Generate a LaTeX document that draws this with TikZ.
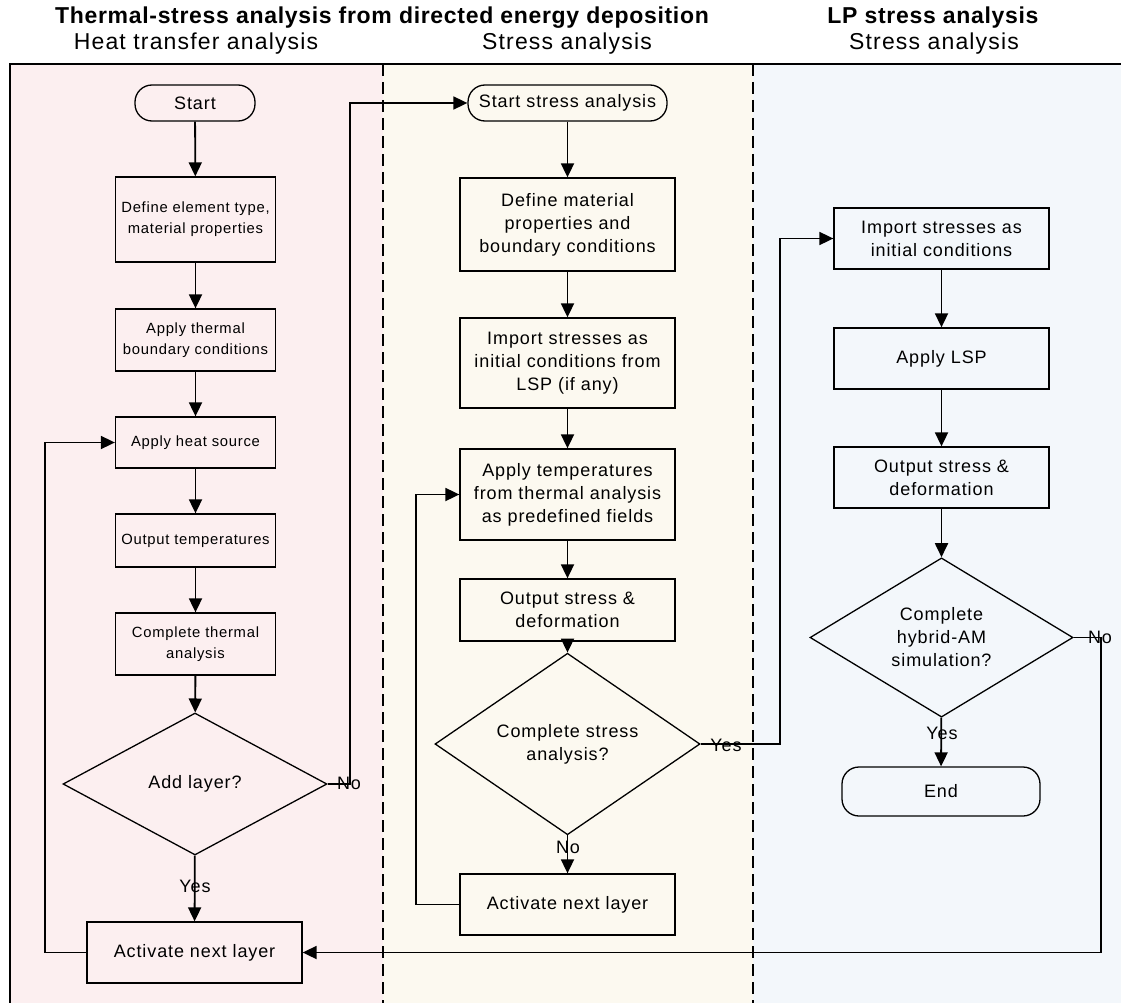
\documentclass[tikz,border=0pt]{standalone}
\usepackage{fontspec}
\setmainfont{Liberation Sans}[LetterSpace=5]
\usetikzlibrary{shapes.geometric,arrows.meta}
\definecolor{lanepink}{RGB}{252,239,240}
\definecolor{lanecream}{RGB}{252,249,240}
\definecolor{laneblue}{RGB}{243,247,251}
\newcommand{\boxfont}{\fontsize{18}{23}\selectfont}
\newcommand{\smallboxfont}{\fontsize{14.8}{21}\selectfont}
\newcommand{\headfont}{\fontsize{23}{27}\selectfont}
\newcommand{\titlefont}{\fontsize{23}{27}\selectfont\addfontfeatures{LetterSpace=3}\bfseries}
\tikzset{
  conn/.style={line width=1.8pt, -{Triangle[length=14pt,width=13pt]}},
  procbox/.style={draw, line width=1.3pt, align=center, inner sep=2pt, font=\boxfont},
  termbox/.style={draw, line width=1.3pt, align=center, rounded corners=17pt, inner sep=2pt, font=\boxfont},
  decbox/.style={draw, line width=1.3pt, diamond, align=center, inner sep=0pt, font=\boxfont},
  lbl/.style={font=\boxfont, inner sep=0pt},
  lanediv/.style={line width=1.6pt, dash pattern=on 12pt off 6pt}
}
\begin{document}
\begin{tikzpicture}[x=1pt,y=-1pt]
\useasboundingbox (0,0) rectangle (1121,1003);
% lanes
\fill[lanepink] (10,64) rectangle (383,1003);
\fill[lanecream] (383,64) rectangle (753,1003);
\fill[laneblue] (753,64) rectangle (1121,1003);
\draw[line width=1.8pt] (10,1003) -- (10,64) -- (1121,64);
\draw[lanediv] (383,64) -- (383,1003);
\draw[lanediv] (753,64) -- (753,1003);
% headers
\node[font=\titlefont] (h1) at (382,18) {Thermal-stress analysis from directed energy deposition};
\node[font=\titlefont] (h2) at (933,18) {LP stress analysis};
\node[font=\headfont] (s1) at (196,44) {Heat transfer analysis};
\node[font=\headfont] (s2) at (567,44) {Stress analysis};
\node[font=\headfont] (s3) at (934,44) {Stress analysis};
% left lane
\node[termbox, minimum width=120pt, minimum height=36pt] (start) at (195,103) {Start};
\node[procbox, font=\smallboxfont, minimum width=160pt, minimum height=85pt] (def1) at (195.5,219.5) {Define element type,\\material properties};
\node[procbox, font=\smallboxfont, minimum width=160pt, minimum height=62pt] (bc1) at (195.5,340) {Apply thermal\\boundary conditions};
\node[procbox, font=\smallboxfont, minimum width=160pt, minimum height=51pt] (heat) at (195.5,442.5) {Apply heat source};
\node[procbox, font=\smallboxfont, minimum width=160pt, minimum height=53pt] (outT) at (195.5,540.5) {Output temperatures};
\node[procbox, font=\smallboxfont, minimum width=160pt, minimum height=62pt] (cta) at (195.5,644) {Complete thermal\\analysis};
\node[decbox, minimum width=264pt, minimum height=142pt] (add) at (195,784) {Add layer?};
\node[procbox, minimum width=215pt, minimum height=61pt] (act1) at (194.5,952.5) {Activate next layer};
% middle lane
\node[termbox, minimum width=199pt, minimum height=36pt] (start2) at (567.5,103) {Start stress analysis};
\node[procbox, minimum width=215pt, minimum height=93pt] (def2) at (567.5,224.5) {Define material\\properties and\\boundary conditions};
\node[procbox, minimum width=215pt, minimum height=90pt] (imp2) at (567.5,363) {Import stresses as\\initial conditions from\\LSP (if any)};
\node[procbox, minimum width=215pt, minimum height=91pt] (temp) at (567.5,494.5) {Apply temperatures\\from thermal analysis\\as predefined fields};
\node[procbox, minimum width=215pt, minimum height=62pt] (out2) at (567.5,610) {Output stress \&\\deformation};
\node[decbox, minimum width=265pt, minimum height=142pt] (cs) at (567.5,744) {Complete stress\\analysis?};
\node[procbox, minimum width=215pt, minimum height=61pt] (act2) at (567.5,904.5) {Activate next layer};
% right lane
\node[procbox, minimum width=215pt, minimum height=61pt] (imp3) at (941.5,238.5) {Import stresses as\\initial conditions};
\node[procbox, minimum width=215pt, minimum height=61pt] (lsp) at (941.5,358.5) {Apply LSP};
\node[procbox, minimum width=215pt, minimum height=61pt] (out3) at (941.5,477.5) {Output stress \&\\deformation};
\node[decbox, minimum width=263pt, minimum height=141pt] (hyb) at (941.5,637.5) {Complete\\hybrid-AM\\simulation?};
\node[termbox, minimum width=198pt, minimum height=49pt] (end) at (941,791.5) {End};
% coordinates for loops
\coordinate (L1) at (45,952.5);
\coordinate (L2) at (416,904.5);
\coordinate (R1) at (780,744);
\coordinate (R2) at (1101,637.5);
\coordinate (N1) at (350,784);
% connectors left
\draw[conn] (start) -- (def1);
\draw[conn] (def1) -- (bc1);
\draw[conn] (bc1) -- (heat);
\draw[conn] (heat) -- (outT);
\draw[conn] (outT) -- (cta);
\draw[conn] (cta) -- (add);
\draw[conn] (add) -- (act1);
\draw[conn] (act1.west) -- (L1) |- (heat.west);
\draw[conn] (add.east) -- (N1) |- (start2.west);
% connectors middle
\draw[conn] (start2) -- (def2);
\draw[conn] (def2) -- (imp2);
\draw[conn] (imp2) -- (temp);
\draw[conn] (temp) -- (out2);
\draw[conn] (out2) -- (cs);
\draw[conn] (cs) -- (act2);
\draw[conn] (act2.west) -- (L2) |- (temp.west);
\draw[conn] (cs.east) -- (R1) |- (imp3.west);
% connectors right
\draw[conn] (imp3) -- (lsp);
\draw[conn] (lsp) -- (out3);
\draw[conn] (out3) -- (hyb);
\draw[conn] (hyb) -- (end);
\draw[conn] (hyb.east) -- (R2) |- (act1.east);
% labels
\node[lbl] (noA) at (349,783) {No};
\node[lbl] (yesA) at (195,886) {Yes};
\node[lbl] (yesB) at (726,745) {Yes};
\node[lbl] (noB) at (568,847) {No};
\node[lbl] (noC) at (1100,637) {No};
\node[lbl] (yesC) at (942,733) {Yes};
\end{tikzpicture}
\end{document}
